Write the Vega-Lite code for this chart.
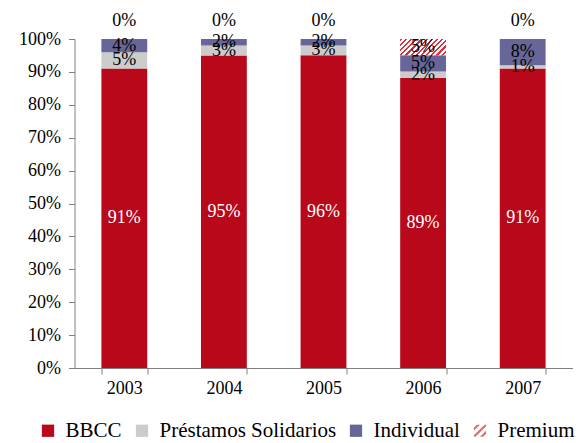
{
  "$schema": "https://vega.github.io/schema/vega-lite/v6.json",
  "width": 498,
  "height": 329,
  "autosize": "none",
  "padding": {"left": 74.5, "top": 39, "right": 10.5, "bottom": 75},
  "background": "white",
  "config": {
    "view": {"stroke": null},
    "font": "Liberation Serif",
    "text": {"font": "Liberation Serif"},
    "legend": {"labelFont": "Liberation Serif"},
    "axis": {
      "labelFont": "Liberation Serif",
      "labelFontSize": 18,
      "labelColor": "#000000",
      "domainColor": "#808080",
      "tickColor": "#808080",
      "grid": false,
      "title": null
    }
  },
  "data": {
    "values": [
      {"year": "2003", "serie": "BBCC", "value": 91},
      {"year": "2003", "serie": "Préstamos Solidarios", "value": 5},
      {"year": "2003", "serie": "Individual", "value": 4},
      {"year": "2003", "serie": "Premium", "value": 0},
      {"year": "2004", "serie": "BBCC", "value": 95},
      {"year": "2004", "serie": "Préstamos Solidarios", "value": 3},
      {"year": "2004", "serie": "Individual", "value": 2},
      {"year": "2004", "serie": "Premium", "value": 0},
      {"year": "2005", "serie": "BBCC", "value": 96},
      {"year": "2005", "serie": "Préstamos Solidarios", "value": 3},
      {"year": "2005", "serie": "Individual", "value": 2},
      {"year": "2005", "serie": "Premium", "value": 0},
      {"year": "2006", "serie": "BBCC", "value": 89},
      {"year": "2006", "serie": "Préstamos Solidarios", "value": 2},
      {"year": "2006", "serie": "Individual", "value": 5},
      {"year": "2006", "serie": "Premium", "value": 5},
      {"year": "2007", "serie": "BBCC", "value": 91},
      {"year": "2007", "serie": "Préstamos Solidarios", "value": 1},
      {"year": "2007", "serie": "Individual", "value": 8},
      {"year": "2007", "serie": "Premium", "value": 0}
    ]
  },
  "transform": [
    {"calculate": "indexof(['BBCC','Préstamos Solidarios','Individual','Premium'], datum.serie)", "as": "rank"},
    {"stack": "value", "groupby": ["year"], "sort": [{"field": "rank", "order": "ascending"}], "offset": "normalize", "as": ["v0", "v1"]},
    {"calculate": "(datum.v0 + datum.v1) / 2", "as": "mid"},
    {"calculate": "datum.value + '%'", "as": "label"}
  ],
  "encoding": {
    "x": {
      "field": "year",
      "type": "nominal",
      "scale": {"paddingInner": 0.54, "paddingOuter": 0.27},
      "axis": {"labelAngle": 0, "tickBand": "extent", "tickSize": 6, "labelPadding": 5}
    },
    "y": {
      "field": "v0",
      "type": "quantitative",
      "scale": {"domain": [0, 1], "nice": false},
      "axis": {"values": [0, 0.1, 0.2, 0.3, 0.4, 0.5, 0.6, 0.7, 0.8, 0.9, 1], "format": ".0%", "tickSize": 6, "labelPadding": 8}
    }
  },
  "layer": [
    {
      "mark": {"type": "bar"},
      "encoding": {
        "y2": {"field": "v1"},
        "color": {
          "field": "serie",
          "type": "nominal",
          "scale": {
            "domain": ["BBCC", "Préstamos Solidarios", "Individual", "Premium"],
            "range": ["#b8081a", "#cccccc", "#666699", "#e06a74"]
          },
          "legend": {
            "orient": "none",
            "direction": "horizontal",
            "legendX": -37,
            "legendY": 381,
            "title": null,
            "symbolType": "square",
            "symbolSize": 150,
            "symbolStrokeWidth": 0,
            "labelFont": "Liberation Serif",
            "labelFontSize": 21,
            "labelColor": "#000000",
            "labelOffset": 7,
            "columnPadding": 9,
            "labelLimit": 400,
            "encode": {
              "symbols": {
                "update": {
                  "shape": [
                    {"test": "datum.label === 'Premium'", "value": "M-1,0.75L0.75,-1L1,-1L1,-0.75L-0.75,1L-1,1Z M-1,-0.5L-0.5,-1L0,-1L-1,0Z M0,1L1,0L1,0.5L0.5,1Z"},
                    {"value": "square"}
                  ]
                }
              }
            }
          }
        }
      }
    },
    {
      "transform": [{"filter": "datum.serie === 'Premium' && datum.value > 0"}],
      "mark": {
        "type": "bar",
        "fill": {
          "gradient": "linear",
          "x1": 0, "y1": 0, "x2": 1.204, "y2": 0.426,
          "stops": [
            {"offset": 0.0, "color": "#d8303e"}, {"offset": 0.035, "color": "#d8303e"}, {"offset": 0.035, "color": "#ffffff"}, {"offset": 0.083, "color": "#ffffff"},
            {"offset": 0.083, "color": "#d8303e"}, {"offset": 0.118, "color": "#d8303e"}, {"offset": 0.118, "color": "#ffffff"}, {"offset": 0.167, "color": "#ffffff"},
            {"offset": 0.167, "color": "#d8303e"}, {"offset": 0.202, "color": "#d8303e"}, {"offset": 0.202, "color": "#ffffff"}, {"offset": 0.25, "color": "#ffffff"},
            {"offset": 0.25, "color": "#d8303e"}, {"offset": 0.285, "color": "#d8303e"}, {"offset": 0.285, "color": "#ffffff"}, {"offset": 0.333, "color": "#ffffff"},
            {"offset": 0.333, "color": "#d8303e"}, {"offset": 0.368, "color": "#d8303e"}, {"offset": 0.368, "color": "#ffffff"}, {"offset": 0.417, "color": "#ffffff"},
            {"offset": 0.417, "color": "#d8303e"}, {"offset": 0.452, "color": "#d8303e"}, {"offset": 0.452, "color": "#ffffff"}, {"offset": 0.5, "color": "#ffffff"},
            {"offset": 0.5, "color": "#d8303e"}, {"offset": 0.535, "color": "#d8303e"}, {"offset": 0.535, "color": "#ffffff"}, {"offset": 0.583, "color": "#ffffff"},
            {"offset": 0.583, "color": "#d8303e"}, {"offset": 0.618, "color": "#d8303e"}, {"offset": 0.618, "color": "#ffffff"}, {"offset": 0.667, "color": "#ffffff"},
            {"offset": 0.667, "color": "#d8303e"}, {"offset": 0.702, "color": "#d8303e"}, {"offset": 0.702, "color": "#ffffff"}, {"offset": 0.75, "color": "#ffffff"},
            {"offset": 0.75, "color": "#d8303e"}, {"offset": 0.785, "color": "#d8303e"}, {"offset": 0.785, "color": "#ffffff"}, {"offset": 0.833, "color": "#ffffff"},
            {"offset": 0.833, "color": "#d8303e"}, {"offset": 0.868, "color": "#d8303e"}, {"offset": 0.868, "color": "#ffffff"}, {"offset": 0.917, "color": "#ffffff"},
            {"offset": 0.917, "color": "#d8303e"}, {"offset": 0.952, "color": "#d8303e"}, {"offset": 0.952, "color": "#ffffff"}, {"offset": 1.0, "color": "#ffffff"}
          ]
        }
      },
      "encoding": {
        "y2": {"field": "v1"}
      }
    },
    {
      "transform": [{"filter": "datum.value > 0"}],
      "mark": {"type": "text", "fontSize": 18, "font": "Liberation Serif", "baseline": "middle", "align": "center"},
      "encoding": {
        "y": {"field": "mid", "type": "quantitative"},
        "text": {"field": "label"},
        "color": {
          "condition": {"test": "datum.serie === 'BBCC'", "value": "#ffffff"},
          "value": "#000000"
        }
      }
    },
    {
      "transform": [{"filter": "datum.value === 0"}],
      "mark": {"type": "text", "fontSize": 18, "font": "Liberation Serif", "baseline": "middle", "align": "center", "dy": -18, "color": "#000000"},
      "encoding": {
        "y": {"field": "mid", "type": "quantitative"},
        "text": {"field": "label"}
      }
    }
  ]
}
